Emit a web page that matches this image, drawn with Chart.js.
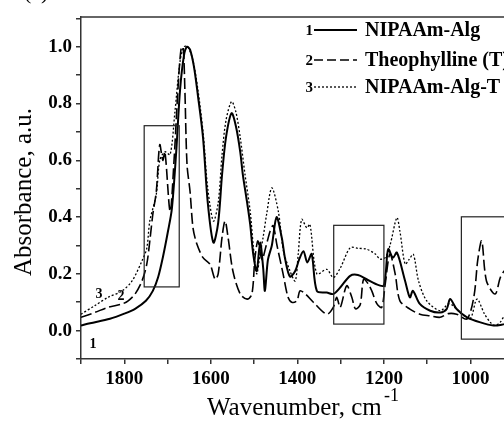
<!DOCTYPE html>
<html>
<head>
<meta charset="utf-8">
<script src="https://cdn.jsdelivr.net/npm/chart.js@4.4.0/dist/chart.umd.min.js"></script>
<style>
  html, body { margin: 0; padding: 0; background: #fff; overflow: hidden; width: 504px; height: 425px; }
  #wrap { position: relative; width: 600px; height: 425px; }
</style>
</head>
<body>
<div id="wrap"><canvas id="chart" width="600" height="425"></canvas></div>
<script>
// FTIR spectra, absorbance normalised to the 1650 band

const algWave = [1900,1879,1833,1800,1775,1750,1734,1722,1711,1699,1690,1680,1671,1662,1655,1648,1639,1630,1618,1607,1594,1583,1574,1565,1552,1542,1532,1526,1516,1509,1502,1494,1486,1479,1475,1468,1459,1448,1436,1428,1417,1405,1396,1386,1377,1367,1355,1332,1317,1301,1278,1260,1240,1220,1201,1196,1190,1179,1170,1151,1140,1133,1117,1093,1070,1055,1047,1032,1008,977,947,924,900];
const algAbs  = [0.018,0.026,0.042,0.06,0.077,0.105,0.14,0.187,0.257,0.35,0.43,0.63,0.85,0.97,1.0,0.99,0.93,0.83,0.68,0.45,0.31,0.38,0.55,0.68,0.766,0.72,0.63,0.55,0.45,0.374,0.27,0.21,0.31,0.22,0.14,0.25,0.30,0.40,0.327,0.25,0.19,0.21,0.25,0.28,0.24,0.27,0.14,0.134,0.129,0.152,0.193,0.196,0.181,0.165,0.158,0.2,0.287,0.257,0.275,0.175,0.117,0.14,0.094,0.07,0.064,0.076,0.111,0.076,0.047,0.029,0.018,0.022,0.03];

const theoWave = [1900,1868,1838,1805,1791,1775,1759,1748,1741,1734,1726,1718,1711,1706,1694,1685,1676,1669,1664,1660,1655,1648,1641,1632,1618,1602,1590,1583,1574,1567,1560,1549,1532,1516,1505,1498,1491,1482,1472,1463,1456,1447,1433,1422,1413,1401,1394,1382,1363,1332,1317,1309,1301,1286,1274,1266,1255,1247,1236,1228,1216,1205,1197,1186,1174,1163,1140,1117,1093,1070,1051,1032,1008,992,983,974,963,943,931,922,900];
const theoAbs  = [0.047,0.064,0.082,0.094,0.105,0.129,0.175,0.234,0.316,0.41,0.49,0.655,0.60,0.63,0.42,0.6,0.85,0.99,1.0,0.85,0.585,0.49,0.36,0.304,0.257,0.234,0.181,0.2,0.33,0.386,0.327,0.21,0.129,0.111,0.129,0.257,0.316,0.25,0.3,0.35,0.37,0.3,0.2,0.12,0.1,0.105,0.14,0.13,0.1,0.058,0.082,0.117,0.082,0.158,0.117,0.077,0.09,0.181,0.164,0.14,0.094,0.082,0.164,0.27,0.2,0.105,0.076,0.058,0.052,0.047,0.06,0.058,0.041,0.12,0.25,0.316,0.175,0.129,0.187,0.21,0.24];

const gelWave = [1900,1868,1838,1805,1782,1759,1748,1741,1726,1718,1706,1694,1683,1671,1662,1653,1641,1630,1618,1607,1594,1583,1574,1565,1552,1542,1532,1521,1509,1502,1494,1486,1479,1471,1459,1444,1432,1417,1405,1398,1390,1378,1371,1355,1332,1317,1301,1278,1260,1240,1220,1209,1197,1186,1170,1163,1151,1142,1132,1120,1101,1070,1051,1042,1024,1001,985,968,954,943,931,922,900];
const gelAbs  = [0.058,0.088,0.117,0.14,0.175,0.246,0.29,0.386,0.48,0.6,0.63,0.62,0.77,0.95,1.0,1.0,0.95,0.85,0.7,0.5,0.386,0.45,0.62,0.74,0.807,0.77,0.68,0.55,0.42,0.3,0.2,0.27,0.33,0.41,0.503,0.42,0.28,0.21,0.175,0.27,0.392,0.362,0.375,0.2,0.216,0.187,0.22,0.292,0.29,0.287,0.27,0.252,0.257,0.3,0.398,0.35,0.234,0.25,0.269,0.175,0.105,0.07,0.094,0.09,0.064,0.041,0.111,0.06,0.029,0.018,0.03,0.05,0.07];

const seriesNames = ['NIPAAm-Alg', 'Theophylline (T)', 'NIPAAm-Alg-T'];
const xTickLabels = [1800, 1600, 1400, 1200, 1000, 800];
const yTickLabels = [0.0, 0.2, 0.4, 0.6, 0.8, 1.0];

// marked regions: [wave from, wave to], [abs low, abs high]
const boxWave = [[1754, 1673], [1316, 1200], [1021, 700]];
const boxAbs  = [[0.154, 0.722], [0.023, 0.371], [-0.03, 0.401]];

const toPoints = (w, a) => w.map((x, i) => ({ x: x, y: a[i] }));

const SERIF = '"Liberation Serif", "DejaVu Serif", serif';

const decorPlugin = {
  id: 'decor',
  afterDatasetsDraw(chart) {
    const { ctx, chartArea, scales } = chart;
    const xs = scales.x, ys = scales.y;
    ctx.save();

    // top frame line
    ctx.strokeStyle = '#333';
    ctx.lineWidth = 1.5;
    ctx.beginPath();
    ctx.moveTo(chartArea.left, chartArea.top);
    ctx.lineTo(chartArea.right, chartArea.top);
    ctx.stroke();

    // rectangles around bands
    ctx.strokeStyle = '#222';
    ctx.lineWidth = 1.2;
    boxWave.forEach((bw, i) => {
      const x1 = xs.getPixelForValue(bw[0]), x2 = xs.getPixelForValue(bw[1]);
      const y1 = ys.getPixelForValue(boxAbs[i][1]), y2 = ys.getPixelForValue(boxAbs[i][0]);
      ctx.strokeRect(x1, y1, x2 - x1, y2 - y1);
    });

    // legend
    const rows = [36, 66, 93];
    const dashes = [[], [9, 4], [2, 2]];
    const widths = [2, 1.6, 1.3];
    ctx.fillStyle = '#000';
    rows.forEach((y, i) => {
      ctx.font = 'bold 15px ' + SERIF;
      ctx.textAlign = 'right';
      ctx.textBaseline = 'alphabetic';
      ctx.fillText(String(i + 1), 313, y - 1);
      ctx.strokeStyle = '#000';
      ctx.lineWidth = widths[i];
      ctx.setLineDash(dashes[i]);
      ctx.beginPath();
      ctx.moveTo(314, y - 6);
      ctx.lineTo(357, y - 6);
      ctx.stroke();
      ctx.setLineDash([]);
      ctx.font = 'bold 20px ' + SERIF;
      ctx.textAlign = 'left';
      ctx.fillText(seriesNames[i], 365, y);
    });

    // curve numbers
    ctx.font = 'bold 14px ' + SERIF;
    ctx.textAlign = 'center';
    ctx.fillText('1', 93, 348);
    ctx.fillText('3', 99, 298);
    ctx.fillText('2', 121, 300);

    // axis titles
    ctx.font = '25px ' + SERIF;
    ctx.textAlign = 'left';
    ctx.fillText('Wavenumber, cm', 207, 415);
    ctx.font = '18px ' + SERIF;
    ctx.fillText('-1', 384, 401);

    ctx.save();
    ctx.translate(31, 192);
    ctx.rotate(-Math.PI / 2);
    ctx.font = '25px ' + SERIF;
    ctx.textAlign = 'center';
    ctx.fillText('Absorbance, a.u.', 0, 0);
    ctx.restore();

    // panel letter, mostly cut off at the top
    ctx.font = '22px ' + SERIF;
    ctx.textAlign = 'left';
    ctx.fillText('(a)', 24, -1);

    ctx.restore();
  }
};

new Chart(document.getElementById('chart'), {
  type: 'line',
  data: {
    datasets: [
      { label: seriesNames[0], data: toPoints(algWave, algAbs), borderColor: '#000', borderWidth: 2, pointRadius: 0, tension: 0.3, fill: false },
      { label: seriesNames[1], data: toPoints(theoWave, theoAbs), borderColor: '#000', borderWidth: 1.6, borderDash: [11, 4], pointRadius: 0, tension: 0.3, fill: false },
      { label: seriesNames[2], data: toPoints(gelWave, gelAbs), borderColor: '#000', borderWidth: 1.3, borderDash: [2, 2], pointRadius: 0, tension: 0.3, fill: false }
    ]
  },
  options: {
    responsive: false,
    animation: false,
    devicePixelRatio: 1,
    layout: { padding: { top: 17, right: 43, left: 0, bottom: 0 } },
    plugins: { legend: { display: false }, tooltip: { enabled: false } },
    scales: {
      x: {
        type: 'linear',
        reverse: true,
        min: 800,
        max: 1900,
        afterBuildTicks: (s) => {
          const t = [];
          for (let v = 800; v <= 1900; v += 100) t.push({ value: v });
          s.ticks = t;
        },
        afterFit: (s) => { s.height = 66; },
        ticks: {
          autoSkip: false,
          maxRotation: 0,
          padding: 4,
          color: '#000',
          font: { family: SERIF, size: 19, weight: 'bold' },
          callback: (v) => xTickLabels.includes(v) ? String(v) : ''
        },
        grid: { drawOnChartArea: false, drawTicks: true, tickLength: 5, color: '#333', lineWidth: 1.5 },
        border: { display: true, color: '#333', width: 1.5 }
      },
      y: {
        min: -0.1,
        max: 1.105,
        afterBuildTicks: (s) => {
          const t = [];
          for (let i = -1; i <= 11; i++) t.push({ value: i / 10 });
          s.ticks = t;
        },
        afterFit: (s) => { s.width = 81; },
        ticks: {
          autoSkip: false,
          padding: 4,
          color: '#000',
          font: { family: SERIF, size: 19, weight: 'bold' },
          callback: (v) => yTickLabels.some(l => Math.abs(l - v) < 1e-6) ? v.toFixed(1) : ''
        },
        grid: { drawOnChartArea: false, drawTicks: true, tickLength: 5, color: '#333', lineWidth: 1.5 },
        border: { display: true, color: '#333', width: 1.5 }
      }
    }
  },
  plugins: [decorPlugin]
});
</script>
</body>
</html>
